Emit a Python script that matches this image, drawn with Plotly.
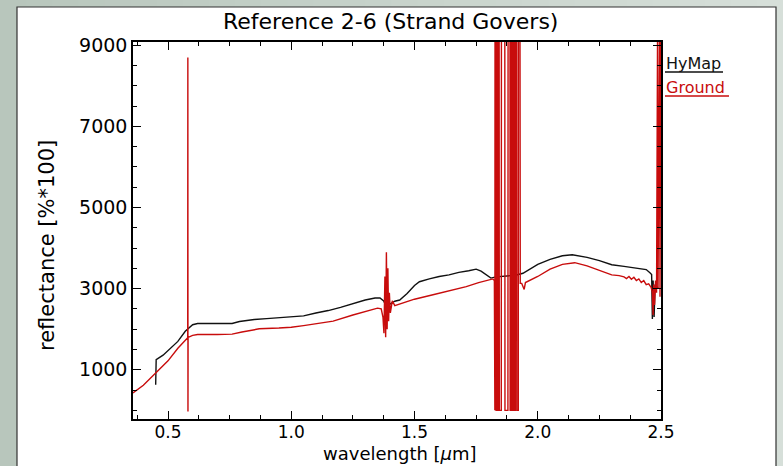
import plotly.graph_objects as go

# ---------------- data ----------------
hymap_wl = [0.450, 0.452, 0.48, 0.51, 0.54, 0.57, 0.60, 0.62, 0.70, 0.76, 0.79, 0.85, 0.90, 0.95,
            1.00, 1.05, 1.10, 1.15, 1.20, 1.25, 1.30, 1.34, 1.36, 1.375, 1.385, 1.40, 1.42, 1.44,
            1.47, 1.50, 1.52, 1.56, 1.60, 1.64, 1.68, 1.72, 1.75, 1.77, 1.79, 1.81, 1.83, 1.87,
            1.91, 1.94, 1.97, 2.00, 2.05, 2.10, 2.14, 2.20, 2.25, 2.30, 2.35, 2.40, 2.44, 2.455,
            2.462, 2.465, 2.468, 2.472, 2.476, 2.49]
hymap_refl = [630, 1250, 1360, 1520, 1700, 1950, 2110, 2140, 2140, 2140, 2190, 2240, 2260, 2280,
              2300, 2330, 2400, 2460, 2540, 2630, 2720, 2770, 2770, 2700, 2550, 2620, 2690, 2720,
              2880, 3080, 3170, 3240, 3300, 3340, 3400, 3440, 3480, 3430, 3350, 3260, 3290, 3310,
              3330, 3380, 3500, 3600, 3720, 3810, 3835, 3770, 3690, 3590, 3550, 3510, 3470, 3390,
              3350, 2250, 3200, 2300, 3100, 3000]

ground_wl = [0.358, 0.40, 0.45, 0.50, 0.54, 0.575, 0.580, 0.5805, 0.5810, 0.5815, 0.60, 0.62,
             0.70, 0.76, 0.80, 0.87, 0.95, 1.00, 1.05, 1.10, 1.17, 1.25, 1.30, 1.35, 1.365,
             1.372, 1.376, 1.380, 1.383, 1.386, 1.389, 1.392, 1.395, 1.398, 1.402, 1.41, 1.42,
             1.45, 1.50, 1.575, 1.65, 1.71, 1.76, 1.81, 1.818, 1.824,
             1.826, 1.827, 1.830, 1.831, 1.833, 1.834, 1.836, 1.837, 1.840, 1.841, 1.843, 1.844,
             1.852, 1.853, 1.866, 1.867, 1.879, 1.880, 1.887, 1.888, 1.892, 1.893, 1.896, 1.897,
             1.900, 1.901, 1.904, 1.905, 1.909, 1.910, 1.914, 1.915, 1.921, 1.922, 1.927,
             1.929, 1.935, 1.945, 1.95, 2.00, 2.05, 2.10, 2.15, 2.20, 2.25, 2.30, 2.33, 2.35,
             2.36, 2.37, 2.38, 2.39, 2.40, 2.41, 2.42, 2.43, 2.44, 2.45, 2.46, 2.465, 2.468,
             2.470, 2.474, 2.478, 2.482, 2.486, 2.488, 2.491, 2.494, 2.496, 2.499]
ground_refl = [430, 620, 920, 1220, 1530, 1780, 1790, 8700, -30, 1800, 1850, 1870,
               1870, 1880, 1930, 2010, 2030, 2050, 2090, 2140, 2200, 2350, 2440, 2520, 2500,
               2300, 1900, 3300, 1800, 3900, 2000, 3500, 2200, 2900, 2400, 2700, 2580,
               2640, 2740, 2850, 2960, 3050, 3150, 3220, 3240, 3200,
               0, 15000, 15000, 0, 0, 15000, 15000, 0, 0, 15000, 15000, 0,
               0, 15000, 15000, 0, 0, 15000, 15000, 0, 0, 15000, 15000, 0,
               0, 15000, 15000, 0, 0, 15000, 15000, 0, 0, 15000, 15000,
               3130, 3130, 2980, 3150, 3300, 3480, 3600, 3640, 3560, 3440, 3340, 3320, 3290,
               3250, 3300, 3230, 3280, 3200, 3240, 3150, 3200, 3100, 3120, 3030, 2900, 2350,
               3100, 2600, 3200, 2900, 9300, 3000, 9300, 9300, 2800, 9300]

x_ticks = [0.5, 1.0, 1.5, 2.0, 2.5]
y_ticks = [1000, 3000, 5000, 7000, 9000]

# ---------------- layout geometry ----------------
W, H = 783, 466
L, R, T, B = 133, 661, 42, 419
pw, ph = R - L, B - T

def px(x):
    return (x - L) / pw

def py(y):
    return (B - y) / ph

fig = go.Figure()
fig.add_trace(go.Scatter(x=hymap_wl, y=hymap_refl, mode="lines", name="HyMap",
                         line=dict(color="#111111", width=1.4)))
fig.add_trace(go.Scatter(x=ground_wl, y=ground_refl, mode="lines", name="Ground",
                         line=dict(color="#c80c0c", width=1.4)))

shapes = []
# gradient background strips
c0 = (0xb8, 0xc6, 0xbc)
c1 = (0xd6, 0xdf, 0xd9)
n = 30
for i in range(n):
    t = i / (n - 1)
    col = "rgb(%d,%d,%d)" % tuple(round(a + (b - a) * t) for a, b in zip(c0, c1))
    x0 = W * i / n
    x1 = W * (i + 1) / n + 1
    shapes.append(dict(type="rect", xref="paper", yref="paper", x0=px(x0), x1=px(x1),
                       y0=py(H + 5), y1=py(-5), fillcolor=col, line=dict(width=0), layer="below"))
# white panel with dark border
shapes.append(dict(type="rect", xref="paper", yref="paper", x0=px(17), x1=px(776),
                   y0=py(470), y1=py(7), fillcolor="white",
                   line=dict(color="#333333", width=1.2), layer="below"))
# legend underlines
shapes.append(dict(type="line", xref="paper", yref="paper", x0=px(665), x1=px(723),
                   y0=py(72), y1=py(72), line=dict(color="#111111", width=1.4)))
shapes.append(dict(type="line", xref="paper", yref="paper", x0=px(665), x1=px(729),
                   y0=py(96), y1=py(96), line=dict(color="#c80c0c", width=1.4)))

font = "DejaVu Sans"
annotations = [
    dict(text="Reference 2-6 (Strand Govers)", xref="paper", yref="paper", x=px(390), y=py(22),
         showarrow=False, font=dict(family=font, size=22, color="black"),
         xanchor="center", yanchor="middle"),
    dict(text="wavelength [<i>µ</i>m]", xref="paper", yref="paper", x=px(400), y=py(466),
         showarrow=False, font=dict(family=font, size=18, color="black"),
         xanchor="center", yanchor="bottom"),
    dict(text="reflectance [%*100]", xref="paper", yref="paper", x=px(47), y=py(246),
         showarrow=False, textangle=-90, font=dict(family=font, size=21, color="black"),
         xanchor="center", yanchor="middle"),
    dict(text="HyMap", xref="paper", yref="paper", x=px(664), y=py(63),
         showarrow=False, font=dict(family=font, size=16, color="#111111"),
         xanchor="left", yanchor="middle"),
    dict(text="Ground", xref="paper", yref="paper", x=px(664), y=py(87),
         showarrow=False, font=dict(family=font, size=16, color="#c80c0c"),
         xanchor="left", yanchor="middle"),
]

axis_common = dict(showgrid=False, zeroline=False, showline=True, linecolor="black",
                   linewidth=1.5, mirror="ticks", ticks="inside", tickcolor="black",
                   tickwidth=1.2, ticklen=8)

fig.update_layout(
    width=W, height=H,
    margin=dict(l=L, r=W - R, t=T, b=H - B, pad=0),
    paper_bgcolor="#c9d4cc",
    plot_bgcolor="rgba(0,0,0,0)",
    showlegend=False,
    shapes=shapes,
    annotations=annotations,
    xaxis=dict(range=[0.358, 2.5], tickvals=x_ticks, ticktext=[f"{v:.1f}" for v in x_ticks],
               tickfont=dict(family=font, size=17, color="black"), ticklabelstandoff=-3,
               minor=dict(dtick=0.125, tick0=0.5, ticks="inside", ticklen=4, tickcolor="black",
                          tickwidth=1),
               **axis_common),
    yaxis=dict(range=[-213, 9080], tickvals=y_ticks, ticktext=[str(v) for v in y_ticks],
               tickfont=dict(family=font, size=19, color="black"),
               minor=dict(dtick=500, tick0=0, ticks="inside", ticklen=4, tickcolor="black",
                          tickwidth=1),
               **axis_common),
)

fig.write_html("out.html")
